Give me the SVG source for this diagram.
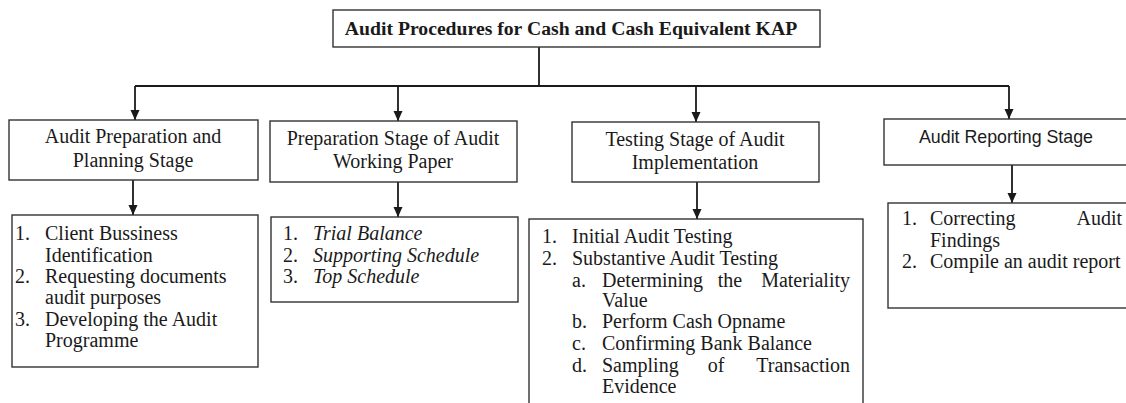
<svg xmlns="http://www.w3.org/2000/svg" width="1126" height="403" viewBox="0 0 1126 403">
<style>
.box{fill:#fff;stroke:#333;stroke-width:1.4}
.t{font-family:"Liberation Serif","Times New Roman",serif;font-size:20px;fill:#1a1a1a}
.c{text-anchor:middle}
.b{font-weight:bold;font-size:19.7px}
.i{font-style:italic}
.s{font-family:"Liberation Sans",Arial,sans-serif;font-size:17.8px;fill:#1a1a1a}
.r{text-anchor:end}
.ln{fill:none;stroke:#1a1a1a;stroke-width:1.8}
</style>
<defs>
<marker id="ah" viewBox="0 0 10 10" refX="10" refY="5" markerWidth="10" markerHeight="10" markerUnits="userSpaceOnUse" orient="auto">
<path d="M0,0.5 L10,5 L0,9.5 Z" fill="#1a1a1a"/>
</marker>
</defs>
<g id="connectors">
<path class="ln" d="M539,47 V86"/>
<path class="ln" d="M135,86 H1009"/>
<path class="ln" d="M135,86 V120" marker-end="url(#ah)"/>
<path class="ln" d="M398,86 V121" marker-end="url(#ah)"/>
<path class="ln" d="M696,86 V122" marker-end="url(#ah)"/>
<path class="ln" d="M1009,86 V119" marker-end="url(#ah)"/>
<path class="ln" d="M133,180 V215" marker-end="url(#ah)"/>
<path class="ln" d="M398,182 V217" marker-end="url(#ah)"/>
<path class="ln" d="M697,182 V219" marker-end="url(#ah)"/>
<path class="ln" d="M1012,165 V203" marker-end="url(#ah)"/>
</g>
<g id="title">
<rect class="box" x="333" y="10" width="487" height="37"/>
<text class="t b c" x="571" y="35">Audit Procedures for Cash and Cash Equivalent KAP</text>
</g>
<g id="stage1">
<rect class="box" x="9" y="120" width="249" height="60"/>
<text class="t c" x="133" y="143">Audit Preparation  and</text>
<text class="t c" x="133" y="167">Planning Stage</text>
</g>
<g id="stage2">
<rect class="box" x="270" y="121" width="247" height="61"/>
<text class="t c" x="393" y="145">Preparation Stage of Audit</text>
<text class="t c" x="393" y="168">Working Paper</text>
</g>
<g id="stage3">
<rect class="box" x="572" y="122" width="247" height="60"/>
<text class="t c" x="695" y="146">Testing Stage of Audit</text>
<text class="t c" x="695" y="169">Implementation</text>
</g>
<g id="stage4">
<rect class="box" x="884" y="119" width="250" height="46"/>
<text class="s c" x="1006" y="143">Audit Reporting Stage</text>
</g>
<g id="list1">
<rect class="box" x="12" y="215" width="246" height="152"/>
<text class="t" x="15" y="240">1.</text><text class="t" x="45" y="240">Client Bussiness</text>
<text class="t" x="45" y="262">Identification</text>
<text class="t" x="15" y="283">2.</text><text class="t" x="45" y="283">Requesting documents</text>
<text class="t" x="45" y="304">audit purposes</text>
<text class="t" x="15" y="326">3.</text><text class="t" x="45" y="326">Developing the Audit</text>
<text class="t" x="45" y="347">Programme</text>
</g>
<g id="list2">
<rect class="box" x="271" y="217" width="247" height="85"/>
<text class="t" x="283" y="240">1.</text><text class="t i" x="313" y="240">Trial Balance</text>
<text class="t" x="283" y="262">2.</text><text class="t i" x="313" y="262">Supporting Schedule</text>
<text class="t" x="283" y="283">3.</text><text class="t i" x="313" y="283">Top Schedule</text>
</g>
<g id="list3">
<rect class="box" x="529" y="219" width="334" height="200"/>
<text class="t" x="542" y="243">1.</text><text class="t" x="572" y="243">Initial Audit Testing</text>
<text class="t" x="542" y="265">2.</text><text class="t" x="572" y="265">Substantive Audit Testing</text>
<text class="t" x="572" y="287">a.</text><text class="t" x="602" y="287">Determining</text><text class="t c" x="730" y="287">the</text><text class="t r" x="850" y="287">Materiality</text>
<text class="t" x="602" y="307">Value</text>
<text class="t" x="572" y="328">b.</text><text class="t" x="602" y="328">Perform Cash Opname</text>
<text class="t" x="572" y="350">c.</text><text class="t" x="602" y="350">Confirming Bank Balance</text>
<text class="t" x="572" y="372">d.</text><text class="t" x="602" y="372">Sampling</text><text class="t c" x="716" y="372">of</text><text class="t r" x="850" y="372">Transaction</text>
<text class="t" x="602" y="393">Evidence</text>
</g>
<g id="list4">
<rect class="box" x="888" y="203" width="250" height="105"/>
<text class="t" x="902" y="225">1.</text><text class="t" x="930" y="225">Correcting</text><text class="t r" x="1122" y="225">Audit</text>
<text class="t" x="930" y="247">Findings</text>
<text class="t" x="902" y="268">2.</text><text class="t" x="930" y="268">Compile an audit report</text>
</g>
</svg>
